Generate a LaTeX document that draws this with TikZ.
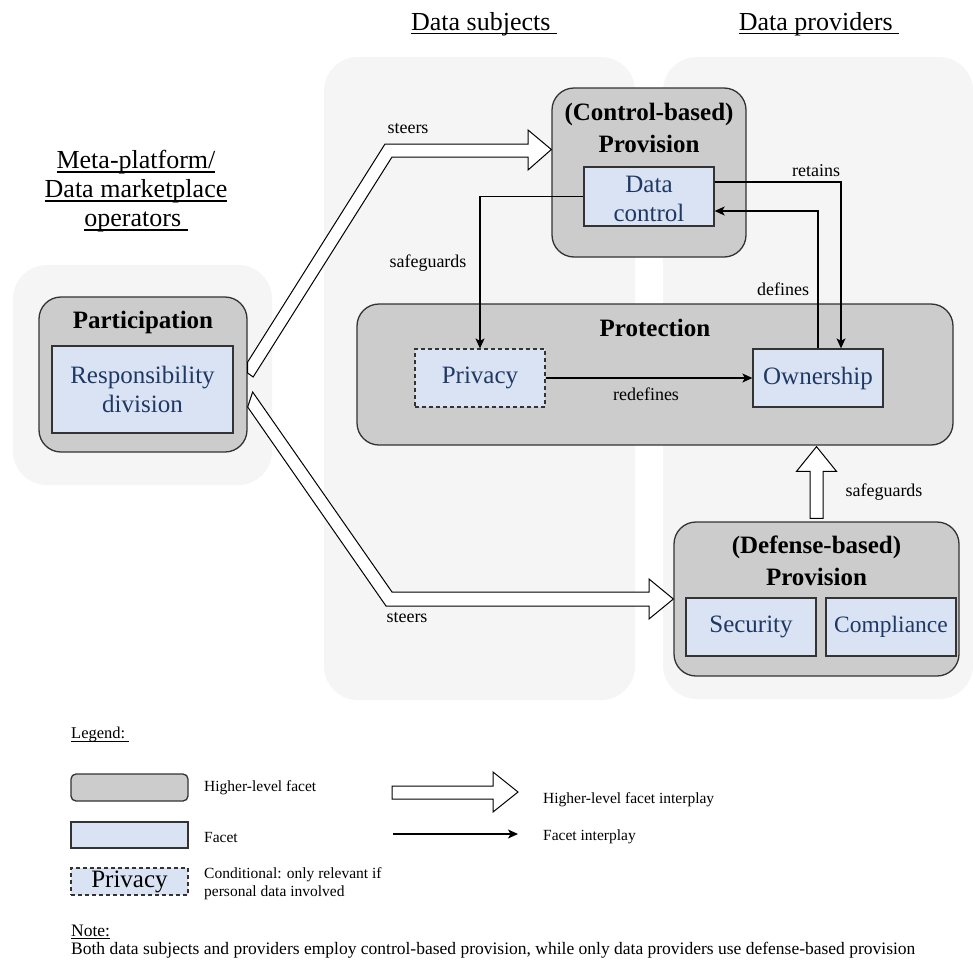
\documentclass[tikz,border=0pt]{standalone}
\usepackage{fontspec}
\setmainfont{Liberation Serif}
\usetikzlibrary{arrows.meta,calc}
\definecolor{panelbg}{HTML}{F5F5F5}
\definecolor{hlfill}{HTML}{CCCCCC}
\definecolor{facetfill}{HTML}{DAE3F3}
\definecolor{facettext}{HTML}{1F3864}
\definecolor{edgecol}{HTML}{333333}
\newcommand{\myul}[1]{\setbox0=\hbox{#1}\rlap{\rule[-0.17em]{\wd0}{0.055em}}\box0}
\begin{document}
\begin{tikzpicture}[x=1pt,y=-1pt,
  panel/.style={fill=panelbg, draw=none, rounded corners=34pt},
  hl/.style={draw=edgecol, fill=hlfill, line width=1.3pt, rounded corners=22pt, inner sep=0pt},
  facet/.style={draw=edgecol, fill=facetfill, line width=1.3pt, inner sep=0pt, text=facettext, align=center, font=\fontsize{25}{29}\selectfont},
  cond/.style={facet, dash pattern=on 4pt off 3pt, line width=1.1pt},
  title/.style={font=\bfseries\fontsize{25}{32}\selectfont, align=center, inner sep=0pt},
  lbl/.style={font=\fontsize{18}{21}\selectfont, inner sep=0pt},
  flow/.style={draw=black, line width=1.2pt, -{Stealth[length=10pt,width=9pt,inset=2.5pt]}},
  hollow/.style={draw=black, fill=white, line width=1pt, line join=miter},
  head/.style={font=\fontsize{26}{29}\selectfont, align=center, inner sep=0pt},
  leg/.style={font=\fontsize{15.5}{18}\selectfont, inner sep=0pt, anchor=west, align=left},
  notefont/.style={font=\fontsize{17.5}{20}\selectfont}
]
\useasboundingbox (0,0) rectangle (973,961);
\fill[white] (0,0) rectangle (973,961);

% background panels
\fill[panel] (13,265) rectangle (272,485);
\fill[panel] (324,57) rectangle (635,700);
\fill[panel] (663,57) rectangle (973,699);

% headers
\node[head, anchor=base] (hsubj) at (484,30) {\myul{Data subjects\ }};
\node[head, anchor=base] (hprov) at (819,30) {\myul{Data providers\ }};
\node[head] (hmeta) at (136,191) {\myul{Meta-platform/}\\\myul{Data marketplace}\\\myul{operators\ }};

% higher-level facets
\node[hl, minimum width=208pt, minimum height=155pt] (part) at (143,374.5) {};
\node[title] (partt) at (143,322) {Participation};
\node[facet, minimum width=181pt, minimum height=87pt] (resp) at (142.5,389.5) {Responsibility\\division};

\node[hl, minimum width=194pt, minimum height=169pt] (ctrl) at (649,172.5) {};
\node[title] (ctrlt) at (649,128) {(Control-based)\\Provision};
\node[facet, minimum width=130pt, minimum height=59pt] (dc) at (649,196.5) {};
\node[facet, draw=none, fill=none] (dct) at (649,199) {Data\\control};

\node[hl, minimum width=596pt, minimum height=141pt] (prot) at (655,374.5) {};
\node[title] (prott) at (655,328) {Protection};
\node[cond, minimum width=130pt, minimum height=58pt] (priv) at (480,378) {Privacy};
\node[facet, minimum width=130pt, minimum height=58pt] (own) at (818,378) {Ownership};

\node[hl, minimum width=285pt, minimum height=154pt] (defp) at (816.5,599) {};
\node[title] (defpt) at (816.5,561) {(Defense-based)\\Provision};
\node[facet, minimum width=130pt, minimum height=58pt] (sec) at (751,627) {Security};
\node[facet, minimum width=130pt, minimum height=58pt, font=\fontsize{23.5}{28}\selectfont] (comp) at (891,627) {Compliance};

% facet interplay
\draw[flow] (dc.west) -| (priv.north);
\draw[flow] ($(dc.east)+(0,-14.5)$) -| ($(own.north)+(23,0)$);
\draw[flow] (own.north) |- ($(dc.east)+(0,14.5)$);
\draw[flow] (priv.east) -- (own.west);

% higher-level interplay (hollow arrows)
\draw[hollow] ($(part.east)+(0,-12.5)$) -- (385,144) -- (528,144) -- (528,130)
  -- ($(ctrl.west)+(0,-23)$) -- (528,170) -- (528,157) -- (392,157)
  -- ($(part.east)+(5.5,2.5)$) -- ($(part.east)+(0,-1.5)$) -- cycle;
\draw[hollow] ($(part.east)+(5,17.5)$) -- (392,592) -- (649,592) -- (649,579)
  -- (defp.west) -- (649,619) -- (649,606) -- (386,606)
  -- ($(part.east)+(0,32.5)$) -- cycle;
\draw[hollow] ($(defp.north)+(-6.5,-3)$) -- ++(0,-47) -- ++(-13.5,0)
  -- ($(defp.north |- prot.south)+(0,1)$) -- ($(defp.north)+(20,-50)$)
  -- ++(-13.5,0) -- ($(defp.north)+(6.5,-3)$) -- cycle;

% labels
\node[lbl] (l1) at (408,129) {steers};
\node[lbl] (l2) at (407,618) {steers};
\node[lbl] (l3) at (428,263) {safeguards};
\node[lbl] (l4) at (816,171) {retains};
\node[lbl] (l5) at (783,289) {defines};
\node[lbl] (l6) at (646,394) {redefines};
\node[lbl] (l7) at (884,492) {safeguards};

% legend
\node[leg, font=\fontsize{16.5}{19}\selectfont] (legt) at (71,735) {\myul{Legend:\ }};
\node[hl, rounded corners=5pt, minimum width=117pt, minimum height=27pt] (lg1) at (129.5,787.5) {};
\node[leg] (lg1t) at (204,788) {Higher-level facet};
\node[facet, minimum width=117pt, minimum height=26pt] (lg2) at (129.5,835) {};
\node[leg] (lg2t) at (204,837) {Facet};
\node[cond, text=black, minimum width=117pt, minimum height=27pt] (lg3) at (129.5,881.5) {Privacy};
\node[leg] (lg3t) at (204,884) {Conditional: only relevant if\\personal data involved};

\coordinate (la1) at (392,792.5);
\coordinate (la2) at (518,792);
\draw[hollow] ($(la1)+(0,-6.5)$) -- (493,786) -- (493,772) -- (la2) -- (493,812) -- (493,799) -- ($(la1)+(0,6.5)$) -- cycle;
\node[leg] (lg4t) at (543,800) {Higher-level facet interplay};
\coordinate (lb1) at (393,834);
\coordinate (lb2) at (518,834);
\draw[flow] (lb1) -- (lb2);
\node[leg] (lg5t) at (543,837) {Facet interplay};

\node[leg, notefont] (note) at (71,932) {\myul{Note:}};
\node[leg, notefont] (notet) at (71,950) {Both data subjects and providers employ control-based provision, while only data providers use defense-based provision};
\end{tikzpicture}
\end{document}
